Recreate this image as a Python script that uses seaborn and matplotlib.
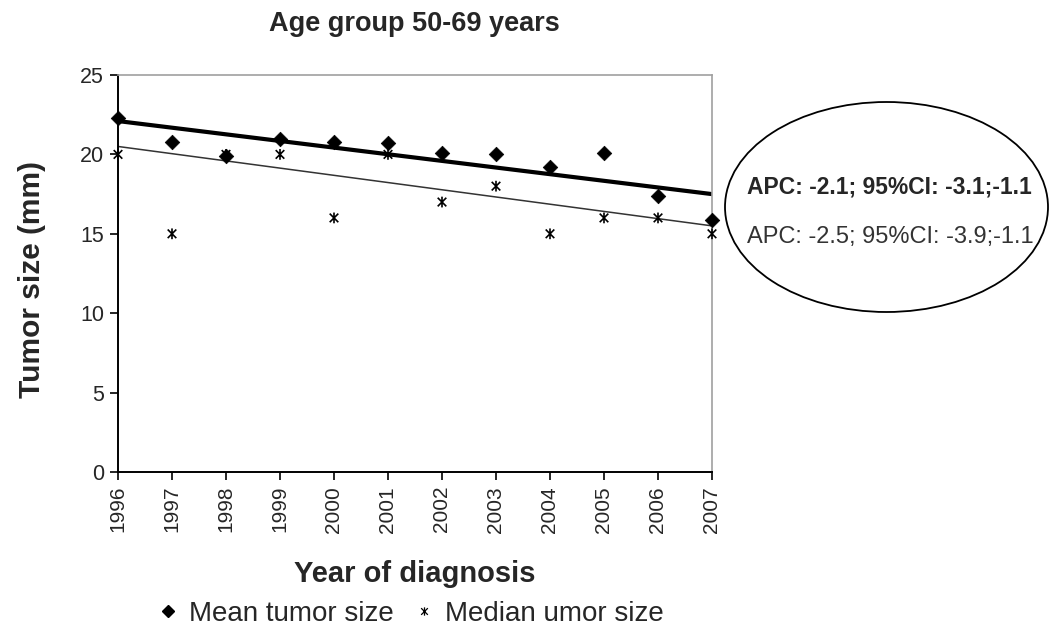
import numpy as np
import pandas as pd
import matplotlib
matplotlib.use("Agg")
import matplotlib.pyplot as plt
from matplotlib.path import Path
from matplotlib.patches import Ellipse
from matplotlib.lines import Line2D
import seaborn as sns

years = [1996, 1997, 1998, 1999, 2000, 2001, 2002, 2003, 2004, 2005, 2006, 2007]
mean_size = [22.3, 20.8, 19.9, 21.0, 20.8, 20.7, 20.1, 20.0, 19.2, 20.1, 17.4, 15.9]
median_size = [20, 15, 20, 20, 16, 20, 17, 18, 15, 16, 16, 15]
trend_years = [1996, 2007]
mean_trend = [22.1, 17.5]
median_trend = [20.5, 15.5]
y_ticks = [0, 5, 10, 15, 20, 25]
legend_labels = ["Mean tumor size", "Median umor size"]
apc_mean = "APC: -2.1; 95%CI: -3.1;-1.1"
apc_median = "APC: -2.5; 95%CI: -3.9;-1.1"

sns.set_style("white")
plt.rcParams["font.family"] = ["Liberation Sans", "DejaVu Sans"]

W, H = 1057, 631
fig = plt.figure(figsize=(W / 100, H / 100), dpi=100)
ax = fig.add_axes([118 / W, 1 - 472 / H, 594 / W, 397 / H])

# star marker (x with vertical bar)
star = Path([(-1, -1), (1, 1), (-1, 1), (1, -1), (0, -1.25), (0, 1.25)],
            [Path.MOVETO, Path.LINETO, Path.MOVETO, Path.LINETO, Path.MOVETO, Path.LINETO])

df_mean = pd.DataFrame({"year": years, "size": mean_size})
df_med = pd.DataFrame({"year": years, "size": median_size})
df_tm = pd.DataFrame({"year": trend_years, "size": mean_trend})
df_td = pd.DataFrame({"year": trend_years, "size": median_trend})

sns.lineplot(data=df_tm, x="year", y="size", color="black", linewidth=3.0, ax=ax, zorder=2)
sns.lineplot(data=df_td, x="year", y="size", color="#333333", linewidth=1.1, ax=ax, zorder=2)
sns.scatterplot(data=df_mean, x="year", y="size", marker="D", s=55, color="black",
                edgecolor="black", linewidth=0.5, ax=ax, zorder=3, clip_on=False)
sns.scatterplot(data=df_med, x="year", y="size", marker=star, s=60, color="black",
                edgecolor="black", facecolor="none", linewidth=1.2, ax=ax, zorder=3,
                clip_on=False)

ax.set_xlim(1996, 2007)
ax.set_ylim(0, 25)
ax.set_yticks(y_ticks)
ax.set_xticks(years)
ax.set_xticklabels([str(y) for y in years], rotation=90, fontsize=15)
ax.set_yticklabels([str(v) for v in y_ticks], fontsize=15.5)
ax.tick_params(axis="both", direction="out", length=6, width=1.2, color="black",
               bottom=True, left=True, pad=4)
ax.set_xlabel("")
ax.set_ylabel("")

for side in ["left", "bottom"]:
    ax.spines[side].set_color("black")
    ax.spines[side].set_linewidth(1.4)
for side in ["top", "right"]:
    ax.spines[side].set_visible(True)
    ax.spines[side].set_color("#a0a0a0")
    ax.spines[side].set_linewidth(1.2)

fig.text(414 / W, 1 - 24 / H, "Age group 50-69 years", ha="center", va="center",
         fontsize=19.5, fontweight="bold")
fig.text(415 / W, 1 - 574 / H, "Year of diagnosis", ha="center", va="center",
         fontsize=21, fontweight="bold")
fig.text(32 / W, 1 - 280 / H, "Tumor size (mm)", ha="center", va="center",
         fontsize=21.5, fontweight="bold", rotation=90)

# ellipse annotation
ell = Ellipse((886.5 / W, 1 - 207 / H), 323 / W, 210 / H, transform=fig.transFigure,
              facecolor="none", edgecolor="black", linewidth=1.3)
fig.patches.append(ell)
fig.text(747 / W, 1 - 187 / H, apc_mean, ha="left", va="center", fontsize=16.5,
         fontweight="bold")
fig.text(747 / W, 1 - 237 / H, apc_median, ha="left", va="center", fontsize=17,
         color="#333333")

handles = [Line2D([], [], marker="D", color="black", linestyle="none", markersize=6),
           Line2D([], [], marker=star, color="black", linestyle="none", markersize=6,
                  markeredgewidth=0.9)]
fig.legend(handles, legend_labels, loc="center", bbox_to_anchor=(412 / W, 1 - 614 / H),
           ncol=2, frameon=False, fontsize=20, handlelength=0.6, handletextpad=0.45,
           columnspacing=0.8, borderaxespad=0, borderpad=0)

fig.savefig("out.png", dpi=100)
